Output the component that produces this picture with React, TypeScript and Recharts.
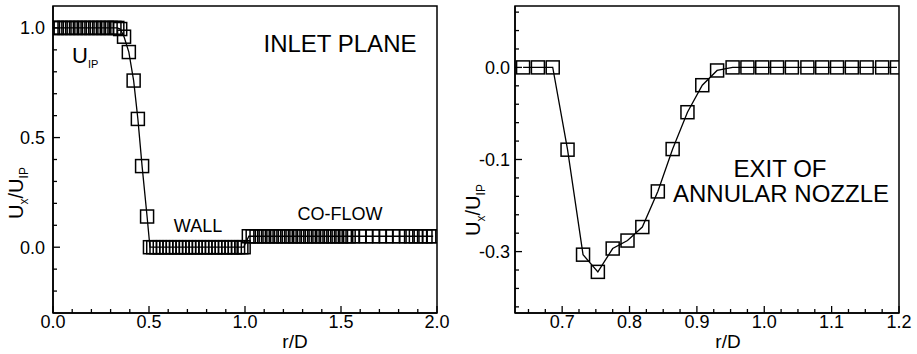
import React from "react";
import { LineChart, Line, XAxis, YAxis, ReferenceArea } from "recharts";

const FONT = "'Liberation Sans', Arial, Helvetica, sans-serif";

// ---- inlet plane (left panel) ----
const inletR = [
  0.0, 0.02, 0.04, 0.06, 0.08, 0.1, 0.12, 0.14, 0.16, 0.18, 0.2, 0.22, 0.24,
  0.26, 0.28, 0.3, 0.32, 0.335, 0.35, 0.37, 0.395, 0.42, 0.442, 0.464, 0.49,
  0.505, 0.522, 0.539, 0.556, 0.573, 0.59, 0.607, 0.624, 0.641, 0.658, 0.675,
  0.692, 0.709, 0.726, 0.743, 0.76, 0.777, 0.794, 0.811, 0.828, 0.845, 0.862,
  0.879, 0.896, 0.913, 0.93, 0.947, 0.964, 0.981, 0.993,
  1.02, 1.04, 1.06, 1.08, 1.1, 1.12, 1.14, 1.16, 1.18, 1.2, 1.22, 1.24, 1.26,
  1.28, 1.3, 1.32, 1.34, 1.36, 1.38, 1.4, 1.42, 1.44, 1.46, 1.48, 1.5, 1.52,
  1.54, 1.56, 1.595, 1.63, 1.665, 1.7, 1.735, 1.77, 1.805, 1.84, 1.865, 1.89,
  1.915, 1.94, 1.96, 1.98,
];
const inletU = [
  1.0, 1.0, 1.0, 1.0, 1.0, 1.0, 1.0, 1.0, 1.0, 1.0, 1.0, 1.0, 1.0,
  1.0, 1.0, 1.0, 1.0, 1.0, 0.995, 0.96, 0.89, 0.76, 0.585, 0.37, 0.14,
  0.0, 0.0, 0.0, 0.0, 0.0, 0.0, 0.0, 0.0, 0.0, 0.0, 0.0,
  0.0, 0.0, 0.0, 0.0, 0.0, 0.0, 0.0, 0.0, 0.0, 0.0, 0.0,
  0.0, 0.0, 0.0, 0.0, 0.0, 0.0, 0.0, 0.0,
  0.05, 0.05, 0.05, 0.05, 0.05, 0.05, 0.05, 0.05, 0.05, 0.05, 0.05, 0.05, 0.05,
  0.05, 0.05, 0.05, 0.05, 0.05, 0.05, 0.05, 0.05, 0.05, 0.05, 0.05, 0.05, 0.05,
  0.05, 0.05, 0.05, 0.05, 0.05, 0.05, 0.05, 0.05, 0.05, 0.05, 0.05, 0.05,
  0.05, 0.05, 0.05, 0.05,
];
const inletXMajor = [0, 0.5, 1, 1.5, 2];
const inletXLabels = ["0.0", "0.5", "1.0", "1.5", "2.0"];
const inletYMajor = [0, 0.5, 1];
const inletYLabels = ["0.0", "0.5", "1.0"];

// ---- exit of annular nozzle (right panel) ----
const exitR = [
  0.642, 0.664, 0.686, 0.708, 0.731, 0.753, 0.775, 0.797, 0.819, 0.842, 0.864,
  0.886, 0.908, 0.93, 0.953, 0.975, 0.997, 1.019, 1.041, 1.064, 1.086, 1.108,
  1.13, 1.152, 1.175, 1.197,
];
const exitU = [
  0, 0, 0, -0.134, -0.305, -0.333, -0.295, -0.282, -0.26, -0.202, -0.133,
  -0.073, -0.029, -0.005, 0, 0, 0, 0, 0, 0, 0, 0,
  0, 0, 0, 0,
];
const exitXMajor = [0.7, 0.8, 0.9, 1.0, 1.1, 1.2];
const exitXLabels = ["0.7", "0.8", "0.9", "1.0", "1.1", "1.2"];
const exitYMajor = [0, -0.15, -0.3];
const exitYLabels = ["0.0", "-0.1", "-0.3"];

function tickRange(from: number, to: number, step: number) {
  const out: number[] = [];
  const n = Math.round((to - from) / step);
  for (let i = 0; i <= n; i++) out.push(Math.round((from + i * step) * 1000) / 1000);
  return out;
}

const findMajor = (major: number[], v: number) =>
  major.findIndex((m) => Math.abs(m - v) < 1e-6);

function makeXTick(major: number[], labels: string[]) {
  return (props: any) => {
    const { x, y, payload } = props;
    const i = findMajor(major, payload.value);
    const len = i >= 0 ? 7 : 4;
    return (
      <g>
        <line x1={x} x2={x} y1={y} y2={y - len} stroke="#000" strokeWidth={1.3} />
        {i >= 0 && (
          <text x={x} y={y + 15} textAnchor="middle" fontSize={18} fontFamily={FONT} fill="#000">
            {labels[i]}
          </text>
        )}
      </g>
    );
  };
}

function makeYTick(major: number[], labels: string[], gap: number) {
  return (props: any) => {
    const { x, y, payload } = props;
    const i = findMajor(major, payload.value);
    const len = i >= 0 ? 7 : 4;
    return (
      <g>
        <line x1={x} x2={x + len} y1={y} y2={y} stroke="#000" strokeWidth={1.3} />
        {i >= 0 && (
          <text x={x - gap} y={y + 6.5} textAnchor="end" fontSize={18} fontFamily={FONT} fill="#000">
            {labels[i]}
          </text>
        )}
      </g>
    );
  };
}

const SquareDot = (props: any) => {
  const { cx, cy, index } = props;
  if (cx == null || cy == null) return <g key={index} />;
  return (
    <rect
      key={index}
      x={cx - 6.5}
      y={cy - 6.5}
      width={13}
      height={13}
      fill="none"
      stroke="#000"
      strokeWidth={1.5}
    />
  );
};

function Panel(props: {
  rs: number[];
  us: number[];
  xDomain: [number, number];
  yDomain: [number, number];
  xMinor: number[];
  yMinor: number[];
  xMajor: number[];
  xLabels: string[];
  yMajor: number[];
  yLabels: string[];
  width: number;
  yAxisWidth: number;
  rightMargin: number;
  labelGap: number;
}) {
  const data = props.rs.map((r, i) => ({ r, u: props.us[i] }));
  return (
    <LineChart
      width={props.width}
      height={354}
      data={data}
      margin={{ top: 6, right: props.rightMargin, bottom: 0, left: 0 }}
    >
      <XAxis
        type="number"
        dataKey="r"
        domain={props.xDomain}
        allowDataOverflow
        ticks={props.xMinor}
        interval={0}
        height={41}
        tickSize={0}
        tickMargin={0}
        tickLine={false}
        axisLine={{ stroke: "#000", strokeWidth: 1.5 }}
        tick={makeXTick(props.xMajor, props.xLabels)}
      />
      <YAxis
        type="number"
        domain={props.yDomain}
        allowDataOverflow
        ticks={props.yMinor}
        interval={0}
        width={props.yAxisWidth}
        tickSize={0}
        tickMargin={0}
        tickLine={false}
        axisLine={{ stroke: "#000", strokeWidth: 1.5 }}
        tick={makeYTick(props.yMajor, props.yLabels, props.labelGap)}
      />
      <ReferenceArea
        x1={props.xDomain[0]}
        x2={props.xDomain[1]}
        y1={props.yDomain[0]}
        y2={props.yDomain[1]}
        fill="none"
        fillOpacity={0}
        stroke="#000"
        strokeWidth={1.5}
      />
      <Line
        type="linear"
        dataKey="u"
        stroke="#000"
        strokeWidth={1.3}
        dot={SquareDot}
        activeDot={false}
        isAnimationActive={false}
      />
    </LineChart>
  );
}

function YTitle({ x, y }: { x: number; y: number }) {
  return (
    <text
      transform={`translate(${x},${y}) rotate(-90)`}
      textAnchor="middle"
      fontSize={20}
      fontFamily={FONT}
      fill="#000"
    >
      U
      <tspan fontSize={12} dy={5}>x</tspan>
      <tspan dy={-5}>/U</tspan>
      <tspan fontSize={12} dy={5}>IP</tspan>
    </text>
  );
}

export default function App() {
  return (
    <div
      style={{
        position: "absolute",
        left: 0,
        top: 0,
        width: 917,
        height: 354,
        background: "#fff",
        fontFamily: FONT,
      }}
    >
      <div style={{ position: "absolute", left: 0, top: 0 }}>
        <Panel
          rs={inletR}
          us={inletU}
          xDomain={[0, 2]}
          yDomain={[-0.3, 1.1]}
          xMinor={tickRange(0, 2, 0.1)}
          yMinor={tickRange(-0.2, 1.0, 0.1)}
          xMajor={inletXMajor}
          xLabels={inletXLabels}
          yMajor={inletYMajor}
          yLabels={inletYLabels}
          width={458}
          yAxisWidth={53}
          rightMargin={21}
          labelGap={8}
        />
      </div>
      <div style={{ position: "absolute", left: 458, top: 0 }}>
        <Panel
          rs={exitR}
          us={exitU}
          xDomain={[0.63, 1.2]}
          yDomain={[-0.4, 0.1]}
          xMinor={tickRange(0.65, 1.2, 0.025)}
          yMinor={tickRange(-0.39, 0.09, 0.03)}
          xMajor={exitXMajor}
          xLabels={exitXLabels}
          yMajor={exitYMajor}
          yLabels={exitYLabels}
          width={459}
          yAxisWidth={57}
          rightMargin={18}
          labelGap={5}
        />
      </div>
      <svg
        width={917}
        height={354}
        style={{ position: "absolute", left: 0, top: 0, pointerEvents: "none" }}
      >
        <g fontFamily={FONT} fill="#000">
          <text x={295} y={348} textAnchor="middle" fontSize={19}>r/D</text>
          <text x={728} y={348} textAnchor="middle" fontSize={19}>r/D</text>
          <text x={340} y={52} textAnchor="middle" fontSize={24}>INLET PLANE</text>
          <text x={72} y={63} fontSize={22}>
            U<tspan fontSize={11} dy={5}>IP</tspan>
          </text>
          <text x={198} y={232} textAnchor="middle" fontSize={18}>WALL</text>
          <text x={340} y={220} textAnchor="middle" fontSize={18}>CO-FLOW</text>
          <text x={780} y={177} textAnchor="middle" fontSize={24}>EXIT OF</text>
          <text x={781} y={202} textAnchor="middle" fontSize={24}>ANNULAR NOZZLE</text>
        </g>
        <YTitle x={23} y={193} />
        <YTitle x={480} y={210} />
      </svg>
    </div>
  );
}
